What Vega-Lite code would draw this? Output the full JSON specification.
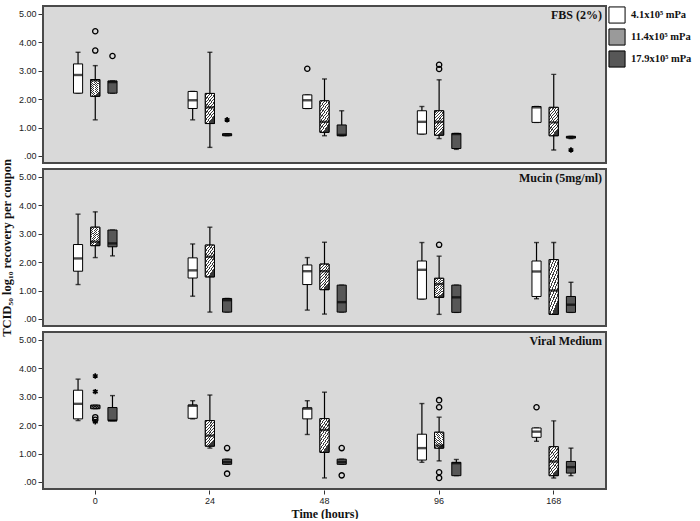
{
  "$schema": "https://vega.github.io/schema/vega-lite/v6.json",
  "padding": {"left": 0, "top": 5, "right": 0, "bottom": 0},
  "background": "white",
  "config": {
    "view": {"stroke": "#4a4a4a", "strokeWidth": 2, "fill": "#d9d9d9"},
    "font": "Liberation Serif",
    "axisY": {"values": [0, 1, 2, 3, 4, 5], "labelExpr": "datum.value == 0 ? '.00' : format(datum.value, '.2f')", "grid": false, "domain": false, "tickSize": 4, "tickColor": "#333", "labelFont": "Liberation Sans", "labelFontSize": 9, "labelColor": "#222", "labelPadding": 2},
    "axisX": {"labelAngle": 0, "domain": false, "grid": false, "tickSize": 4, "tickColor": "#333", "labelFont": "Liberation Sans", "labelFontSize": 9, "labelColor": "#222", "titleFont": "Liberation Serif", "titleFontSize": 12, "titleFontWeight": "bold", "titlePadding": 3, "titleColor": "#111"},
    "legend": {"title": null, "orient": "right", "symbolType": "square", "symbolSize": 260, "symbolStrokeColor": "black", "symbolStrokeWidth": 1, "labelFont": "Liberation Serif", "labelFontWeight": "bold", "labelFontSize": 10.5, "labelColor": "#111", "rowPadding": 0, "offset": 1, "labelOffset": 5, "padding": 0, "symbolOpacity": 1}
  },
  "data": {"values": [
    {"k": "lab", "m": "FBS (2%)"},
    {"k": "lab", "m": "Mucin (5mg/ml)"},
    {"k": "lab", "m": "Viral Medium"},

    {"k": "box", "m": "FBS (2%)", "t": "0", "p": "4.1x10⁵ mPa", "lo": 2.21, "q1": 2.21, "md": 2.85, "q3": 3.24, "hi": 3.65},
    {"k": "box", "m": "FBS (2%)", "t": "0", "p": "11.4x10⁵ mPa", "lo": 1.27, "q1": 2.10, "md": 2.66, "q3": 2.69, "hi": 3.18},
    {"k": "box", "m": "FBS (2%)", "t": "0", "p": "17.9x10⁵ mPa", "lo": 2.21, "q1": 2.21, "md": 2.60, "q3": 2.64, "hi": 2.64},
    {"k": "box", "m": "FBS (2%)", "t": "24", "p": "4.1x10⁵ mPa", "lo": 1.27, "q1": 1.67, "md": 1.96, "q3": 2.27, "hi": 2.27},
    {"k": "box", "m": "FBS (2%)", "t": "24", "p": "11.4x10⁵ mPa", "lo": 0.30, "q1": 1.14, "md": 1.71, "q3": 2.20, "hi": 3.65},
    {"k": "box", "m": "FBS (2%)", "t": "24", "p": "17.9x10⁵ mPa", "lo": 0.71, "q1": 0.71, "md": 0.75, "q3": 0.78, "hi": 0.78},
    {"k": "box", "m": "FBS (2%)", "t": "48", "p": "4.1x10⁵ mPa", "lo": 1.67, "q1": 1.67, "md": 1.96, "q3": 2.15, "hi": 2.15},
    {"k": "box", "m": "FBS (2%)", "t": "48", "p": "11.4x10⁵ mPa", "lo": 0.71, "q1": 0.83, "md": 1.20, "q3": 1.94, "hi": 2.71},
    {"k": "box", "m": "FBS (2%)", "t": "48", "p": "17.9x10⁵ mPa", "lo": 0.71, "q1": 0.71, "md": 0.74, "q3": 1.09, "hi": 1.59},
    {"k": "box", "m": "FBS (2%)", "t": "96", "p": "4.1x10⁵ mPa", "lo": 0.77, "q1": 0.77, "md": 1.20, "q3": 1.59, "hi": 1.74},
    {"k": "box", "m": "FBS (2%)", "t": "96", "p": "11.4x10⁵ mPa", "lo": 0.61, "q1": 0.73, "md": 1.20, "q3": 1.59, "hi": 2.68},
    {"k": "box", "m": "FBS (2%)", "t": "96", "p": "17.9x10⁵ mPa", "lo": 0.23, "q1": 0.26, "md": 0.77, "q3": 0.79, "hi": 0.79},
    {"k": "box", "m": "FBS (2%)", "t": "168", "p": "4.1x10⁵ mPa", "lo": 1.18, "q1": 1.18, "md": 1.71, "q3": 1.74, "hi": 1.74},
    {"k": "box", "m": "FBS (2%)", "t": "168", "p": "11.4x10⁵ mPa", "lo": 0.21, "q1": 0.71, "md": 1.18, "q3": 1.71, "hi": 2.87},
    {"k": "box", "m": "FBS (2%)", "t": "168", "p": "17.9x10⁵ mPa", "lo": 0.61, "q1": 0.63, "md": 0.66, "q3": 0.69, "hi": 0.69},

    {"k": "box", "m": "Mucin (5mg/ml)", "t": "0", "p": "4.1x10⁵ mPa", "lo": 1.21, "q1": 1.68, "md": 2.13, "q3": 2.62, "hi": 3.69},
    {"k": "box", "m": "Mucin (5mg/ml)", "t": "0", "p": "11.4x10⁵ mPa", "lo": 2.16, "q1": 2.58, "md": 2.72, "q3": 3.23, "hi": 3.77},
    {"k": "box", "m": "Mucin (5mg/ml)", "t": "0", "p": "17.9x10⁵ mPa", "lo": 2.22, "q1": 2.54, "md": 2.66, "q3": 3.13, "hi": 3.13},
    {"k": "box", "m": "Mucin (5mg/ml)", "t": "24", "p": "4.1x10⁵ mPa", "lo": 0.80, "q1": 1.44, "md": 1.71, "q3": 2.15, "hi": 2.64},
    {"k": "box", "m": "Mucin (5mg/ml)", "t": "24", "p": "11.4x10⁵ mPa", "lo": 0.24, "q1": 1.48, "md": 2.19, "q3": 2.60, "hi": 3.23},
    {"k": "box", "m": "Mucin (5mg/ml)", "t": "24", "p": "17.9x10⁵ mPa", "lo": 0.24, "q1": 0.24, "md": 0.66, "q3": 0.72, "hi": 0.72},
    {"k": "box", "m": "Mucin (5mg/ml)", "t": "48", "p": "4.1x10⁵ mPa", "lo": 0.31, "q1": 1.21, "md": 1.68, "q3": 1.90, "hi": 2.16},
    {"k": "box", "m": "Mucin (5mg/ml)", "t": "48", "p": "11.4x10⁵ mPa", "lo": 0.17, "q1": 1.03, "md": 1.68, "q3": 1.93, "hi": 2.70},
    {"k": "box", "m": "Mucin (5mg/ml)", "t": "48", "p": "17.9x10⁵ mPa", "lo": 0.24, "q1": 0.24, "md": 0.59, "q3": 1.19, "hi": 1.19},
    {"k": "box", "m": "Mucin (5mg/ml)", "t": "96", "p": "4.1x10⁵ mPa", "lo": 0.70, "q1": 0.70, "md": 1.73, "q3": 2.04, "hi": 2.69},
    {"k": "box", "m": "Mucin (5mg/ml)", "t": "96", "p": "11.4x10⁵ mPa", "lo": 0.16, "q1": 0.76, "md": 1.23, "q3": 1.43, "hi": 2.21},
    {"k": "box", "m": "Mucin (5mg/ml)", "t": "96", "p": "17.9x10⁵ mPa", "lo": 0.23, "q1": 0.23, "md": 0.76, "q3": 1.19, "hi": 1.19},
    {"k": "box", "m": "Mucin (5mg/ml)", "t": "168", "p": "4.1x10⁵ mPa", "lo": 0.71, "q1": 0.79, "md": 1.67, "q3": 2.04, "hi": 2.69},
    {"k": "box", "m": "Mucin (5mg/ml)", "t": "168", "p": "11.4x10⁵ mPa", "lo": 0.16, "q1": 0.16, "md": 1.00, "q3": 2.09, "hi": 2.69},
    {"k": "box", "m": "Mucin (5mg/ml)", "t": "168", "p": "17.9x10⁵ mPa", "lo": 0.23, "q1": 0.23, "md": 0.50, "q3": 0.79, "hi": 1.29},

    {"k": "box", "m": "Viral Medium", "t": "0", "p": "4.1x10⁵ mPa", "lo": 2.16, "q1": 2.22, "md": 2.75, "q3": 3.23, "hi": 3.62},
    {"k": "box", "m": "Viral Medium", "t": "0", "p": "11.4x10⁵ mPa", "lo": 2.58, "q1": 2.58, "md": 2.65, "q3": 2.70, "hi": 2.70},
    {"k": "box", "m": "Viral Medium", "t": "0", "p": "17.9x10⁵ mPa", "lo": 2.16, "q1": 2.16, "md": 2.16, "q3": 2.62, "hi": 3.04},
    {"k": "box", "m": "Viral Medium", "t": "24", "p": "4.1x10⁵ mPa", "lo": 2.22, "q1": 2.24, "md": 2.68, "q3": 2.71, "hi": 2.86},
    {"k": "box", "m": "Viral Medium", "t": "24", "p": "11.4x10⁵ mPa", "lo": 1.19, "q1": 1.26, "md": 1.63, "q3": 2.16, "hi": 3.06},
    {"k": "box", "m": "Viral Medium", "t": "24", "p": "17.9x10⁵ mPa", "lo": 0.62, "q1": 0.62, "md": 0.70, "q3": 0.80, "hi": 0.80},
    {"k": "box", "m": "Viral Medium", "t": "48", "p": "4.1x10⁵ mPa", "lo": 1.67, "q1": 2.22, "md": 2.58, "q3": 2.61, "hi": 2.86},
    {"k": "box", "m": "Viral Medium", "t": "48", "p": "11.4x10⁵ mPa", "lo": 0.14, "q1": 1.04, "md": 1.83, "q3": 2.23, "hi": 3.16},
    {"k": "box", "m": "Viral Medium", "t": "48", "p": "17.9x10⁵ mPa", "lo": 0.62, "q1": 0.62, "md": 0.70, "q3": 0.80, "hi": 0.80},
    {"k": "box", "m": "Viral Medium", "t": "96", "p": "4.1x10⁵ mPa", "lo": 0.69, "q1": 0.77, "md": 1.19, "q3": 1.68, "hi": 2.76},
    {"k": "box", "m": "Viral Medium", "t": "96", "p": "11.4x10⁵ mPa", "lo": 0.74, "q1": 1.19, "md": 1.28, "q3": 1.75, "hi": 2.28},
    {"k": "box", "m": "Viral Medium", "t": "96", "p": "17.9x10⁵ mPa", "lo": 0.22, "q1": 0.22, "md": 0.66, "q3": 0.69, "hi": 0.79},
    {"k": "box", "m": "Viral Medium", "t": "168", "p": "4.1x10⁵ mPa", "lo": 1.43, "q1": 1.57, "md": 1.77, "q3": 1.90, "hi": 1.90},
    {"k": "box", "m": "Viral Medium", "t": "168", "p": "11.4x10⁵ mPa", "lo": 0.14, "q1": 0.22, "md": 0.72, "q3": 1.24, "hi": 2.15},
    {"k": "box", "m": "Viral Medium", "t": "168", "p": "17.9x10⁵ mPa", "lo": 0.22, "q1": 0.31, "md": 0.52, "q3": 0.72, "hi": 1.19},

    {"k": "out", "s": "o", "m": "FBS (2%)", "t": "0", "p": "11.4x10⁵ mPa", "v": 4.39},
    {"k": "out", "s": "o", "m": "FBS (2%)", "t": "0", "p": "11.4x10⁵ mPa", "v": 3.71},
    {"k": "out", "s": "o", "m": "FBS (2%)", "t": "0", "p": "17.9x10⁵ mPa", "v": 3.52},
    {"k": "out", "s": "*", "m": "FBS (2%)", "t": "24", "p": "17.9x10⁵ mPa", "v": 1.27},
    {"k": "out", "s": "o", "m": "FBS (2%)", "t": "48", "p": "4.1x10⁵ mPa", "v": 3.07},
    {"k": "out", "s": "o", "m": "FBS (2%)", "t": "96", "p": "11.4x10⁵ mPa", "v": 3.21},
    {"k": "out", "s": "o", "m": "FBS (2%)", "t": "96", "p": "11.4x10⁵ mPa", "v": 3.06},
    {"k": "out", "s": "*", "m": "FBS (2%)", "t": "168", "p": "17.9x10⁵ mPa", "v": 0.21},
    {"k": "out", "s": "o", "m": "Mucin (5mg/ml)", "t": "96", "p": "11.4x10⁵ mPa", "v": 2.61},
    {"k": "out", "s": "*", "m": "Viral Medium", "t": "0", "p": "11.4x10⁵ mPa", "v": 3.73},
    {"k": "out", "s": "*", "m": "Viral Medium", "t": "0", "p": "11.4x10⁵ mPa", "v": 3.18},
    {"k": "out", "s": "o", "m": "Viral Medium", "t": "0", "p": "11.4x10⁵ mPa", "v": 2.28},
    {"k": "out", "s": "o", "m": "Viral Medium", "t": "0", "p": "11.4x10⁵ mPa", "v": 2.19},
    {"k": "out", "s": "*", "m": "Viral Medium", "t": "0", "p": "11.4x10⁵ mPa", "v": 2.12},
    {"k": "out", "s": "o", "m": "Viral Medium", "t": "24", "p": "17.9x10⁵ mPa", "v": 1.19},
    {"k": "out", "s": "o", "m": "Viral Medium", "t": "24", "p": "17.9x10⁵ mPa", "v": 0.29},
    {"k": "out", "s": "o", "m": "Viral Medium", "t": "48", "p": "17.9x10⁵ mPa", "v": 1.19},
    {"k": "out", "s": "o", "m": "Viral Medium", "t": "48", "p": "17.9x10⁵ mPa", "v": 0.23},
    {"k": "out", "s": "o", "m": "Viral Medium", "t": "96", "p": "11.4x10⁵ mPa", "v": 2.88},
    {"k": "out", "s": "o", "m": "Viral Medium", "t": "96", "p": "11.4x10⁵ mPa", "v": 2.63},
    {"k": "out", "s": "o", "m": "Viral Medium", "t": "96", "p": "11.4x10⁵ mPa", "v": 0.34},
    {"k": "out", "s": "o", "m": "Viral Medium", "t": "96", "p": "11.4x10⁵ mPa", "v": 0.14},
    {"k": "out", "s": "o", "m": "Viral Medium", "t": "168", "p": "4.1x10⁵ mPa", "v": 2.63}
  ]},
  "facet": {"row": {"field": "m", "type": "nominal", "sort": ["FBS (2%)", "Mucin (5mg/ml)", "Viral Medium"], "header": {"title": "TCID₅₀ log₁₀ recovery per coupon", "labels": false, "labelPadding": 0, "titleFont": "Liberation Serif", "titleFontWeight": "bold", "titleFontSize": 12.5, "titleColor": "#111", "titlePadding": -5}}},
  "spacing": {"row": 4},
  "spec": {
    "width": 563,
    "height": 157,
    "layer": [
      {
        "transform": [{"filter": "datum.k == 'box'"}],
        "mark": {"type": "rule", "color": "black", "strokeWidth": 1.2},
        "encoding": {
          "x": {"field": "t", "type": "nominal", "sort": ["0", "24", "48", "96", "168"], "scale": {"paddingInner": 0.62, "paddingOuter": 0.266}, "title": "Time (hours)"},
          "xOffset": {"field": "p", "type": "nominal", "sort": ["4.1x10⁵ mPa", "11.4x10⁵ mPa", "17.9x10⁵ mPa"], "scale": {"paddingInner": 0.47, "paddingOuter": 0}},
          "y": {"field": "lo", "type": "quantitative", "scale": {"domain": [-0.25, 5.28], "nice": false, "zero": false}, "title": null},
          "y2": {"field": "hi"}
        }
      },
      {
        "transform": [{"filter": "datum.k == 'box'"}],
        "mark": {"type": "tick", "color": "black", "size": 5, "thickness": 1.4},
        "encoding": {
          "x": {"field": "t", "type": "nominal", "sort": ["0", "24", "48", "96", "168"], "title": "Time (hours)"},
          "xOffset": {"field": "p", "type": "nominal", "sort": ["4.1x10⁵ mPa", "11.4x10⁵ mPa", "17.9x10⁵ mPa"]},
          "y": {"field": "lo", "type": "quantitative", "scale": {"domain": [-0.25, 5.28], "nice": false, "zero": false}, "title": null}
        }
      },
      {
        "transform": [{"filter": "datum.k == 'box'"}],
        "mark": {"type": "tick", "color": "black", "size": 5, "thickness": 1.4},
        "encoding": {
          "x": {"field": "t", "type": "nominal", "sort": ["0", "24", "48", "96", "168"], "title": "Time (hours)"},
          "xOffset": {"field": "p", "type": "nominal", "sort": ["4.1x10⁵ mPa", "11.4x10⁵ mPa", "17.9x10⁵ mPa"]},
          "y": {"field": "hi", "type": "quantitative", "scale": {"domain": [-0.25, 5.28], "nice": false, "zero": false}, "title": null}
        }
      },
      {
        "transform": [{"filter": "datum.k == 'box'"}],
        "mark": {"type": "bar", "stroke": "black", "strokeWidth": 1},
        "encoding": {
          "x": {"field": "t", "type": "nominal", "sort": ["0", "24", "48", "96", "168"], "title": "Time (hours)"},
          "xOffset": {"field": "p", "type": "nominal", "sort": ["4.1x10⁵ mPa", "11.4x10⁵ mPa", "17.9x10⁵ mPa"]},
          "y": {"field": "q1", "type": "quantitative", "scale": {"domain": [-0.25, 5.28], "nice": false, "zero": false}, "title": null},
          "y2": {"field": "q3"},
          "fill": {
            "field": "p", "type": "nominal",
            "scale": {"domain": ["4.1x10⁵ mPa", "11.4x10⁵ mPa", "17.9x10⁵ mPa"], "range": ["#ffffff", "#9a9a9a", "#575757"]},
            "legend": {"title": null}
          }
        }
      },
      {
        "transform": [{"filter": "datum.k == 'box' && datum.p == '11.4x10⁵ mPa'"}],
        "mark": {"type": "bar", "stroke": "black", "strokeWidth": 1},
        "encoding": {
          "x": {"field": "t", "type": "nominal", "sort": ["0", "24", "48", "96", "168"], "title": "Time (hours)"},
          "xOffset": {"field": "p", "type": "nominal", "sort": ["4.1x10⁵ mPa", "11.4x10⁵ mPa", "17.9x10⁵ mPa"]},
          "y": {"field": "q1", "type": "quantitative", "scale": {"domain": [-0.25, 5.28], "nice": false, "zero": false}, "title": null},
          "y2": {"field": "q3"},
          "fill": {"value": {"gradient": "linear", "x1": 0, "y1": 0, "x2": 0.4, "y2": 1, "stops": [
                  {"offset": 0, "color": "#ffffff"}, {"offset": 0.06, "color": "#ffffff"}, {"offset": 0.06, "color": "#3a3a3a"}, {"offset": 0.1, "color": "#3a3a3a"},
                  {"offset": 0.1, "color": "#ffffff"}, {"offset": 0.16, "color": "#ffffff"}, {"offset": 0.16, "color": "#3a3a3a"}, {"offset": 0.2, "color": "#3a3a3a"},
                  {"offset": 0.2, "color": "#ffffff"}, {"offset": 0.26, "color": "#ffffff"}, {"offset": 0.26, "color": "#3a3a3a"}, {"offset": 0.3, "color": "#3a3a3a"},
                  {"offset": 0.3, "color": "#ffffff"}, {"offset": 0.36, "color": "#ffffff"}, {"offset": 0.36, "color": "#3a3a3a"}, {"offset": 0.4, "color": "#3a3a3a"},
                  {"offset": 0.4, "color": "#ffffff"}, {"offset": 0.46, "color": "#ffffff"}, {"offset": 0.46, "color": "#3a3a3a"}, {"offset": 0.5, "color": "#3a3a3a"},
                  {"offset": 0.5, "color": "#ffffff"}, {"offset": 0.56, "color": "#ffffff"}, {"offset": 0.56, "color": "#3a3a3a"}, {"offset": 0.6, "color": "#3a3a3a"},
                  {"offset": 0.6, "color": "#ffffff"}, {"offset": 0.66, "color": "#ffffff"}, {"offset": 0.66, "color": "#3a3a3a"}, {"offset": 0.7, "color": "#3a3a3a"},
                  {"offset": 0.7, "color": "#ffffff"}, {"offset": 0.76, "color": "#ffffff"}, {"offset": 0.76, "color": "#3a3a3a"}, {"offset": 0.8, "color": "#3a3a3a"},
                  {"offset": 0.8, "color": "#ffffff"}, {"offset": 0.86, "color": "#ffffff"}, {"offset": 0.86, "color": "#3a3a3a"}, {"offset": 0.9, "color": "#3a3a3a"},
                  {"offset": 0.9, "color": "#ffffff"}, {"offset": 0.96, "color": "#ffffff"}, {"offset": 0.96, "color": "#3a3a3a"}, {"offset": 1, "color": "#3a3a3a"}
                ]}}
        }
      },
      {
        "transform": [{"filter": "datum.k == 'box'"}],
        "mark": {"type": "tick", "color": "black", "size": 9, "thickness": 2.4},
        "encoding": {
          "x": {"field": "t", "type": "nominal", "sort": ["0", "24", "48", "96", "168"], "title": "Time (hours)"},
          "xOffset": {"field": "p", "type": "nominal", "sort": ["4.1x10⁵ mPa", "11.4x10⁵ mPa", "17.9x10⁵ mPa"]},
          "y": {"field": "md", "type": "quantitative", "scale": {"domain": [-0.25, 5.28], "nice": false, "zero": false}, "title": null}
        }
      },
      {
        "transform": [{"filter": "datum.k == 'out' && datum.s == 'o'"}],
        "mark": {"type": "point", "shape": "circle", "filled": false, "stroke": "black", "strokeWidth": 1.3, "size": 28, "opacity": 1},
        "encoding": {
          "x": {"field": "t", "type": "nominal", "sort": ["0", "24", "48", "96", "168"], "title": "Time (hours)"},
          "xOffset": {"field": "p", "type": "nominal", "sort": ["4.1x10⁵ mPa", "11.4x10⁵ mPa", "17.9x10⁵ mPa"]},
          "y": {"field": "v", "type": "quantitative", "scale": {"domain": [-0.25, 5.28], "nice": false, "zero": false}, "title": null}
        }
      },
      {
        "transform": [{"filter": "datum.k == 'out' && datum.s == '*'"}],
        "mark": {"type": "point", "shape": "M0,-1L0,1M-0.87,-0.5L0.87,0.5M-0.87,0.5L0.87,-0.5", "filled": false, "stroke": "black", "strokeWidth": 1.6, "size": 30, "opacity": 1},
        "encoding": {
          "x": {"field": "t", "type": "nominal", "sort": ["0", "24", "48", "96", "168"], "title": "Time (hours)"},
          "xOffset": {"field": "p", "type": "nominal", "sort": ["4.1x10⁵ mPa", "11.4x10⁵ mPa", "17.9x10⁵ mPa"]},
          "y": {"field": "v", "type": "quantitative", "scale": {"domain": [-0.25, 5.28], "nice": false, "zero": false}, "title": null}
        }
      },
      {
        "transform": [{"filter": "datum.k == 'lab'"}],
        "mark": {"type": "text", "align": "right", "baseline": "top", "dx": -4, "dy": 4, "font": "Liberation Serif", "fontWeight": "bold", "fontSize": 12, "color": "#111"},
        "encoding": {
          "x": {"value": "width"},
          "y": {"value": 0},
          "text": {"field": "m"}
        }
      }
    ]
  }
}
